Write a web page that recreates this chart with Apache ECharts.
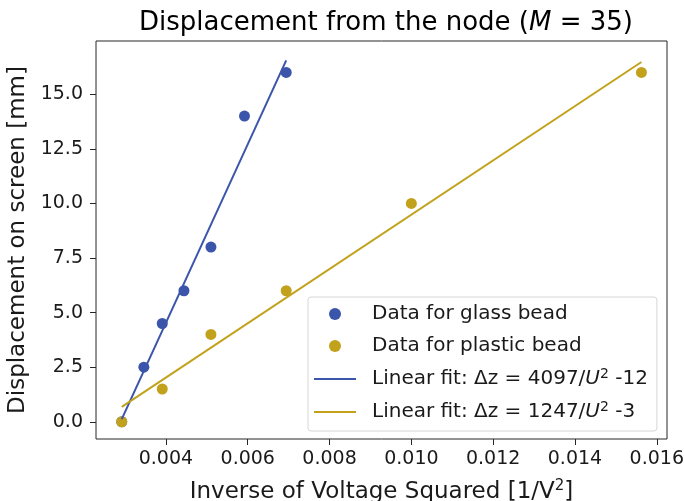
<!DOCTYPE html>
<html>
<head>
<meta charset="utf-8">
<script src="https://cdn.jsdelivr.net/npm/echarts@6/dist/echarts.min.js"></script>
<style>html,body{margin:0;padding:0;background:#fff}#c{width:684px;height:501px}</style>
</head>
<body>
<div id="c"></div>
<script>
const glassX = [0.00292, 0.00346, 0.00391, 0.00444, 0.00510, 0.00592, 0.00694];
const glassY = [0, 2.5, 4.5, 6, 8, 14, 16];
const plasticX = [0.00292, 0.00391, 0.00510, 0.00694, 0.0100, 0.015625];
const plasticY = [0, 1.5, 4, 6, 10, 16];
const fitGlassX = [0.00292, 0.00694];
const fitGlassY = [0.12, 16.55];
const fitPlasticX = [0.00292, 0.015625];
const fitPlasticY = [0.68, 16.48];
const xTicks = [0.004, 0.006, 0.008, 0.010, 0.012, 0.014, 0.016];
const yTicks = [0, 2.5, 5, 7.5, 10, 12.5, 15];
const seriesNames = ['Data for glass bead', 'Data for plastic bead', 'fitGlass', 'fitPlastic'];
const legendLabels = {
  'Data for glass bead': 'Data for glass bead',
  'Data for plastic bead': 'Data for plastic bead',
  'fitGlass': 'Linear fit: Δz = 4097/{i|U}{sup|2} -12',
  'fitPlastic': 'Linear fit: Δz = 1247/{i|U}{sup|2} -3'
};
const BLUE = '#3a55aa', GOLD = '#c2a21c';
const FONT = 'DejaVu Sans';
const zip = (a, b) => a.map((v, i) => [v, b[i]]);
const LINE_ICON = 'path://M0,0H42V2H0Z';

const chart = echarts.init(document.getElementById('c'), null, {renderer: 'canvas'});
chart.setOption({
  animation: false,
  backgroundColor: '#fff',
  textStyle: {fontFamily: FONT},
  title: {
    text: 'Displacement from the node ({i|M} = 35)',
    left: 381, top: 5, textAlign: 'center',
    textStyle: {
      fontFamily: FONT, fontSize: 26, fontWeight: 'normal', color: '#000',
      rich: {i: {fontFamily: FONT, fontSize: 26, fontStyle: 'italic', color: '#000'}}
    }
  },
  grid: {left: 96, right: 17, top: 41, bottom: 62, outerBoundsMode: 'none', containLabel: false,
         show: true, borderColor: '#262626', borderWidth: 1, backgroundColor: 'transparent'},
  xAxis: {
    type: 'value', min: 0.00229, max: 0.01625,
    axisLine: {show: false, onZero: false},
    splitLine: {show: false},
    axisTick: {show: true, inside: false, length: 6, lineStyle: {color: '#262626'}, customValues: xTicks},
    axisLabel: {fontFamily: FONT, fontSize: 19, color: '#1a1a1a', margin: 11, customValues: xTicks, formatter: v => v.toFixed(3)},
    name: 'Inverse of Voltage Squared [1/V{sup|2}]',
    nameLocation: 'middle', nameGap: 40,
    nameTextStyle: {fontFamily: FONT, fontSize: 23, color: '#1a1a1a',
      rich: {sup: {fontFamily: FONT, fontSize: 15, color: '#1a1a1a', padding: [0, 0, 12, 0]}}}
  },
  yAxis: {
    type: 'value', min: -0.79, max: 17.44,
    axisLine: {show: false, onZero: false},
    splitLine: {show: false},
    axisTick: {show: true, inside: false, length: 6, lineStyle: {color: '#262626'}, customValues: yTicks},
    axisLabel: {fontFamily: FONT, fontSize: 19, color: '#1a1a1a', margin: 13, customValues: yTicks, formatter: v => v.toFixed(1)},
    name: 'Displacement on screen [mm]',
    nameLocation: 'middle', nameGap: 58, nameRotate: 90,
    nameTextStyle: {fontFamily: FONT, fontSize: 23, color: '#1a1a1a'}
  },
  legend: {
    orient: 'vertical', left: 308, top: 297,
    data: [
      {name: seriesNames[0], icon: 'circle'},
      {name: seriesNames[1], icon: 'circle'},
      {name: seriesNames[2], icon: LINE_ICON},
      {name: seriesNames[3], icon: LINE_ICON}
    ],
    itemWidth: 42, itemHeight: 12, itemGap: 10,
    padding: [6, 9, 8, 6],
    backgroundColor: 'rgba(255,255,255,0.8)',
    borderColor: '#d6d6d6', borderWidth: 1, borderRadius: 3,
    formatter: n => legendLabels[n],
    textStyle: {
      fontFamily: FONT, fontSize: 20, color: '#1a1a1a', lineHeight: 22, padding: [0, 0, 0, 11],
      rich: {
        i: {fontFamily: FONT, fontSize: 20, fontStyle: 'italic', color: '#1a1a1a', lineHeight: 22},
        sup: {fontFamily: FONT, fontSize: 14, color: '#1a1a1a', padding: [0, 0, 10, 0]}
      }
    }
  },
  series: [
    {name: seriesNames[0], type: 'scatter', data: zip(glassX, glassY), symbol: 'circle', symbolSize: 11, itemStyle: {color: BLUE, opacity: 1}, z: 2},
    {name: seriesNames[1], type: 'scatter', data: zip(plasticX, plasticY), symbol: 'circle', symbolSize: 11, itemStyle: {color: GOLD, opacity: 1}, z: 2},
    {name: seriesNames[2], type: 'line', data: zip(fitGlassX, fitGlassY), symbol: 'none', showSymbol: false, lineStyle: {color: BLUE, width: 2}, itemStyle: {color: BLUE}, z: 3},
    {name: seriesNames[3], type: 'line', data: zip(fitPlasticX, fitPlasticY), symbol: 'none', showSymbol: false, lineStyle: {color: GOLD, width: 2}, itemStyle: {color: GOLD}, z: 3}
  ]
});
</script>
</body>
</html>
